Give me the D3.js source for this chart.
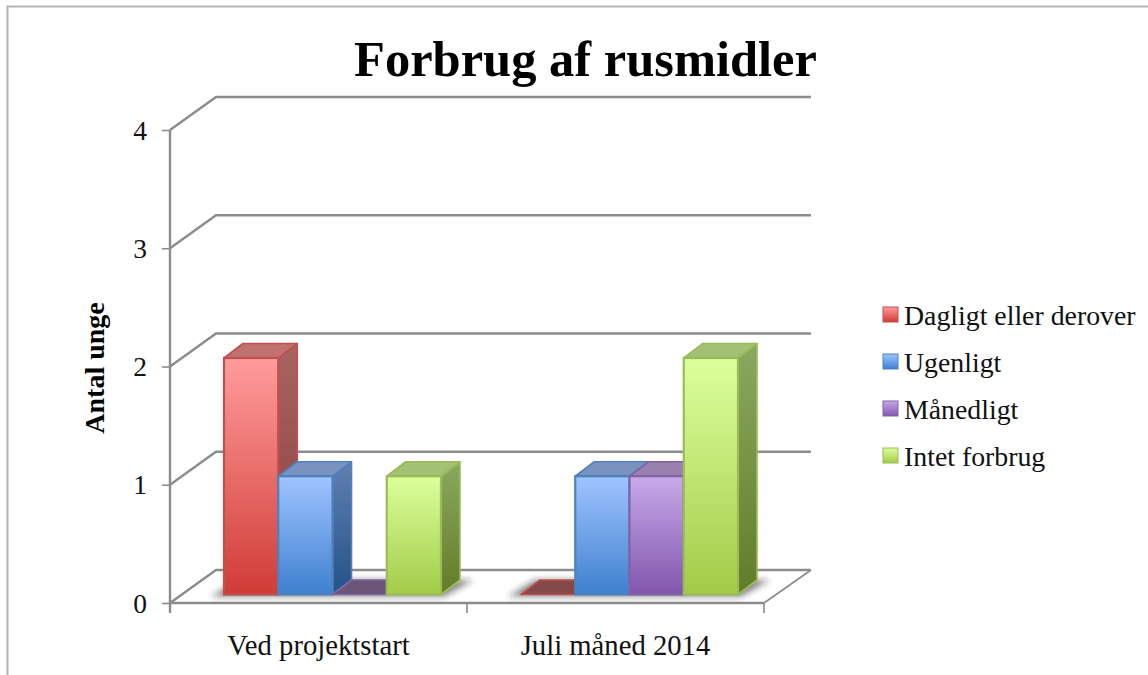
<!DOCTYPE html>
<html><head><meta charset="utf-8">
<script src="https://cdn.jsdelivr.net/npm/d3@7/dist/d3.min.js"></script>
<style>html,body{margin:0;padding:0;background:#fff;overflow:hidden}svg{display:block;font-family:"Liberation Serif",serif}</style>
</head><body><svg id="c" width="1148" height="675"></svg>
<script>
const categories = ["Ved projektstart", "Juli måned 2014"];
const seriesNames = ["Dagligt eller derover", "Ugenligt", "Månedligt", "Intet forbrug"];
const daglig = [2, 0];
const ugenlig = [1, 1];
const maanedlig = [0, 1];
const intet = [1, 2];
const seriesValues = [daglig, ugenlig, maanedlig, intet];
const yTicks = [0, 1, 2, 3, 4];
const titleText = "Forbrug af rusmidler";
const yTitle = "Antal unge";

const frontTop = ["#ff9c9c", "#a0c4ff", "#c8aaea", "#dcff9c"];
const frontBottom = ["#d03c36", "#3f80cf", "#8255ad", "#a3cb48"];
const strokes = ["#c0504d", "#4f81bd", "#8064a2", "#9bbb59"];
const sideTop = ["#a86464", "#6080b0", "#7f68a0", "#8ca860"];
const sideBottom = ["#8e3a3a", "#235288", "#54386f", "#617c28"];
const topFill = ["#c07272", "#7a92c0", "#9a80b0", "#a4c074"];
const flatFill = ["#844848", "#4f5f80", "#6a5478", "#6a7f50"];

const svg = d3.select("#c");
const defs = svg.append("defs");
function grad(id, a, b) {
  const g = defs.append("linearGradient").attr("id", id).attr("x1", 0).attr("y1", 0).attr("x2", 0).attr("y2", 1);
  g.append("stop").attr("offset", 0).attr("stop-color", a);
  g.append("stop").attr("offset", 1).attr("stop-color", b);
}
seriesNames.forEach((_, i) => { grad("f" + i, frontTop[i], frontBottom[i]); grad("s" + i, sideTop[i], sideBottom[i]); });
defs.append("filter").attr("id", "soft").attr("x", "-20%").attr("y", "-50%").attr("width", "140%").attr("height", "200%")
  .append("feGaussianBlur").attr("stdDeviation", 3);
defs.append("filter").attr("id", "aa").attr("x", "-5%").attr("y", "-5%").attr("width", "110%").attr("height", "110%")
  .append("feGaussianBlur").attr("stdDeviation", 0.55);

// outer frame
svg.append("path").attr("d", "M7.5,675V6.5H1148").attr("fill", "none").attr("stroke", "#b4b4b4").attr("stroke-width", 2);

const plot = { left: 170, right: 764, top: 130, bottom: 603, depthX: 46, depthY: -33 };
const barDepth = { x: 19, y: -14.5, frontX: 0, frontY: -8.5 };
const y = d3.scaleLinear().domain([0, 4]).range([plot.bottom, plot.top]);
const x0 = d3.scaleBand().domain(categories).range([plot.left, plot.right]);
const x1 = d3.scaleBand().domain(seriesNames).range([54, 271]);
const line = d3.line();
const axisColor = "#8c8c8c";
const labelSize = 27.5;
const wall = svg.append("g").attr("filter", "url(#aa)");

// floor + walls
yTicks.forEach(t => {
  const yy = y(t);
  const pts = [[plot.left, yy], [plot.left + plot.depthX, yy + plot.depthY], [plot.right + plot.depthX + 1, yy + plot.depthY]];
  wall.append("path").attr("d", line(pts)).attr("fill", "none").attr("stroke", axisColor).attr("stroke-width", 2.4);
});
wall.append("path").attr("d", line([[plot.right, plot.bottom], [plot.right + plot.depthX + 1, plot.bottom + plot.depthY]]))
  .attr("fill", "none").attr("stroke", axisColor).attr("stroke-width", 1.8);

// axes
const yAxis = d3.axisLeft(y).tickValues(yTicks).tickSize(8).tickPadding(15).tickFormat(d3.format("d"));
const xAxis = d3.axisBottom(x0).tickValues([]).tickSize(0);
const gy = svg.append("g").attr("transform", `translate(${plot.left},0)`).call(yAxis);
gy.select(".domain").attr("stroke", axisColor).attr("stroke-width", 2.4).attr("d", `M0,${plot.top}V${plot.bottom + 10}`);
gy.selectAll(".tick line").attr("stroke", axisColor).attr("stroke-width", 1.6);
gy.selectAll("text").attr("font-size", labelSize).attr("font-family", "Liberation Serif").attr("fill", "#111").attr("dy", "0.33em");

const gx = svg.append("g").attr("transform", `translate(0,${plot.bottom})`).call(xAxis);
gx.select(".domain").attr("stroke", axisColor).attr("stroke-width", 2.6).attr("d", `M${plot.left},0H${plot.right}`);
[plot.left, plot.left + x0.bandwidth(), plot.right].forEach(px => {
  gx.append("line").attr("x1", px).attr("x2", px).attr("y1", 0).attr("y2", 10).attr("stroke", axisColor).attr("stroke-width", 1.6);
});
categories.forEach(c => {
  gx.append("text").attr("x", x0(c) + x0.bandwidth() / 2).attr("y", 52).attr("text-anchor", "middle")
    .attr("font-family", "Liberation Serif").attr("font-size", 28.7).attr("fill", "#111").text(c);
});

// bars
const baseY = plot.bottom + barDepth.frontY;
const bars = svg.append("g").attr("filter", "url(#aa)");
categories.forEach((c, ci) => {
  const L = x0(c) + x1.range()[0], R = L + x1.bandwidth() * seriesNames.length;
  bars.append("path").attr("filter", "url(#soft)").attr("fill", "#222").attr("fill-opacity", 0.55)
    .attr("d", line([[L - 13, baseY + 2], [R + 3, baseY + 2], [R + barDepth.x + 13, baseY + barDepth.y], [L + barDepth.x - 5, baseY + barDepth.y]]) + "Z");
});
categories.forEach((c, ci) => {
  seriesNames.forEach((s, si) => {
    const v = seriesValues[si][ci];
    const xl = x0(c) + x1(s), w = x1.bandwidth(), xr = xl + w;
    const yt = y(v) + barDepth.frontY, yb = baseY;
    const dx = barDepth.x, dy = barDepth.y;
    const g = bars.append("g");
    if (v > 0) {
      g.append("path").attr("d", line([[xr, yt], [xr + dx, yt + dy], [xr + dx, yb + dy], [xr, yb]]) + "Z")
        .attr("fill", `url(#s${si})`).attr("stroke", strokes[si]).attr("stroke-width", 1.6).attr("stroke-linejoin", "round");
    }
    g.append("path").attr("d", line([[xl, yt], [xl + dx, yt + dy], [xr + dx, yt + dy], [xr, yt]]) + "Z")
      .attr("fill", v > 0 ? topFill[si] : flatFill[si]).attr("stroke", strokes[si]).attr("stroke-width", 1.6).attr("stroke-linejoin", "round");
    if (v > 0) {
      g.append("rect").attr("x", xl).attr("y", yt).attr("width", w).attr("height", yb - yt)
        .attr("fill", `url(#f${si})`).attr("stroke", strokes[si]).attr("stroke-width", 2.2);
    }
  });
});

// title and axis title
svg.append("text").attr("x", 585.5).attr("y", 76).attr("text-anchor", "middle").attr("font-size", 50.5).attr("font-weight", "bold").attr("fill", "#000").text(titleText);
svg.append("text").attr("transform", "translate(104,368) rotate(-90)").attr("text-anchor", "middle").attr("font-size", 28).attr("font-weight", "bold").attr("fill", "#000").text(yTitle);

// legend
const lg = svg.append("g").selectAll("g").data(seriesNames).join("g").attr("transform", (d, i) => `translate(883,${307 + i * 47})`);
lg.append("rect").attr("width", 15).attr("height", 15).attr("fill", (d, i) => `url(#f${i})`).attr("stroke", (d, i) => strokes[i]).attr("stroke-width", 1);
lg.append("text").attr("x", 21).attr("y", 18).attr("font-size", 27.8).attr("fill", "#111").text(d => d);
</script></body></html>
